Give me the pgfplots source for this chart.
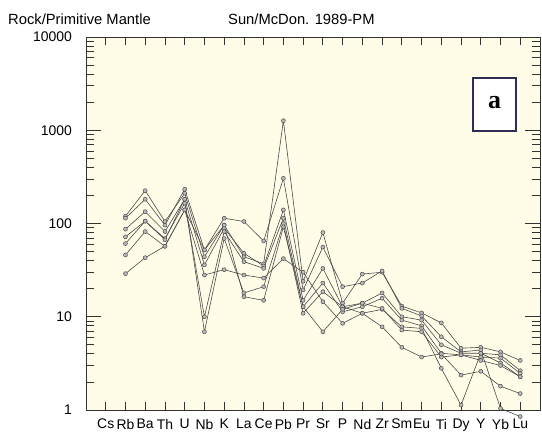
\documentclass[border=0pt]{standalone}
\usepackage{pgfplots}
\pgfplotsset{compat=1.18}
\usepackage{fontspec}
\setmainfont{Liberation Sans}
\newfontfamily\serifbold{Liberation Serif}
\definecolor{bgc}{HTML}{FFFDE7}
\definecolor{ln}{HTML}{4A4A4A}
\definecolor{boxc}{HTML}{2E2E55}
\tikzset{tk/.style={draw=black!80, line width=0.8pt}}
\begin{document}
\begin{tikzpicture}
\path[use as bounding box] (-86bp,-29bp) rectangle (456bp,410bp);
\fill[bgc] (0bp,0bp) rectangle (454bp,373bp);
\begin{axis}[
  at={(0,0)}, anchor=south west,
  scale only axis, width=454bp, height=373bp,
  xmin=-1, xmax=22, ymode=log, ymin=1, ymax=10000,
  clip=false,
  axis line style={black!80, line width=0.9pt},
  xtick={0,...,21},
  xticklabels={Cs,Rb,Ba,Th,U,Nb,K,La,Ce,Pb,Pr,Sr,P,Nd,Zr,Sm,Eu,Ti,Dy,Y,Yb,Lu},
  ytick={1,10,100,1000,10000},
  yticklabels={1,10,100,1000,10000},
  major tick length=8pt, minor tick length=8pt,
  tick style={black!80, line width=0.8pt},
  ticklabel style={font=\fontsize{14}{16}\selectfont},
  yticklabel style={anchor=east, inner sep=0pt, xshift=-14bp},
  xticklabel style={anchor=north, inner sep=0pt, yshift=-9bp},
  ser/.style={color=ln, line width=0.6pt, mark=*, mark size=2pt,
    mark options={fill=gray!55, draw=black!70, line width=0.5pt}},
]
\addplot[ser] coordinates {(1,120)(2,225)(3,105)(4,211)(5,44)(6,96)(7,44)(8,37)(9,1266)(10,24)(11,80)(12,14)(13,28.7)(14,30)(15,13)(16,11)(17,8.6)(18,4.6)(19,4.7)(20,4.2)(21,3.4)};
\addplot[ser] coordinates {(1,114)(2,182)(3,96)(4,233)(5,52)(6,114)(7,105)(8,65)(9,305)(10,19.4)(11,56)(12,21)(13,23)(14,31)(15,12.3)(16,10.2)(17,6.1)(18,4.2)(19,4.4)(20,1.04)(21,0.85)};
\addplot[ser] coordinates {(1,87)(2,134)(3,82)(4,182)(5,36)(6,89)(7,48)(8,35)(9,140)(10,15)(11,33)(12,12.8)(13,14)(14,18)(15,10)(16,9.2)(17,5.0)(18,4.06)(19,4.06)(20,3.9)(21,2.64)};
\addplot[ser] coordinates {(1,72)(2,106)(3,69)(4,165)(5,10)(6,82)(7,39)(8,33)(9,114)(10,12.8)(11,23)(12,11.3)(13,12.8)(14,15.8)(15,9.2)(16,8)(17,4.06)(18,3.9)(19,3.7)(20,3.6)(21,2.47)};
\addplot[ser] coordinates {(1,61)(2,106)(3,67)(4,182)(5,6.9)(6,69)(7,18)(8,21)(9,100)(10,10.9)(11,18.6)(12,12.8)(13,10.9)(14,12)(15,7.8)(16,7.5)(17,2.8)(18,1.13)(19,4.06)(20,3.2)(21,2.27)};
\addplot[ser] coordinates {(1,46)(2,82)(3,57)(4,140)(5,52)(6,96)(7,16.4)(8,15)(9,92)(10,12.8)(11,6.9)(12,12)(13,14)(14,12.3)(15,7.2)(16,6.9)(17,3.7)(18,3.9)(19,3.4)(20,3.0)(21,2.27)};
\addplot[ser] coordinates {(1,29)(2,43)(3,57)(4,140)(5,28)(6,32)(7,28)(8,26)(9,42)(10,30)(11,14.5)(12,8.5)(13,10.9)(14,7.8)(15,4.7)(16,3.7)(17,4.0)(18,2.37)(19,2.6)(20,1.8)(21,1.5)};
\pgfplotsinvokeforeach{0,...,21}{
  \draw[tk] (axis cs:#1,1) -- ++(0pt,8bp);
  \draw[tk] (axis cs:#1,10000) -- ++(0pt,-8bp);
}
\pgfplotsinvokeforeach{1,10,100,1000,10000}{
  \draw[tk] (axis cs:-1,#1) -- ++(15bp,0pt);
  \draw[tk] (axis cs:22,#1) -- ++(-15bp,0pt);
}
\pgfplotsinvokeforeach{2,3,4,5,6,7,8,9,20,30,40,50,60,70,80,90,200,300,400,500,600,700,800,900,2000,3000,4000,5000,6000,7000,8000,9000}{
  \draw[tk] (axis cs:-1,#1) -- ++(8bp,0pt);
  \draw[tk] (axis cs:22,#1) -- ++(-8bp,0pt);
}
\end{axis}
\node[anchor=base west, inner sep=0pt, font=\fontsize{14.8}{16}\selectfont] at (-78bp,385bp) {Rock/Primitive Mantle};
\node[anchor=base west, inner sep=0pt, font=\fontsize{14.8}{16}\selectfont] at (142bp,385bp) {Sun/McDon. 1989-PM};
\draw[boxc, line width=1.2bp, fill=white] (387bp,279bp) rectangle (430bp,332bp);
\node[inner sep=0pt, font=\serifbold\bfseries\fontsize{26}{28}\selectfont] at (408.5bp,307bp) {a};
\end{tikzpicture}
\end{document}
